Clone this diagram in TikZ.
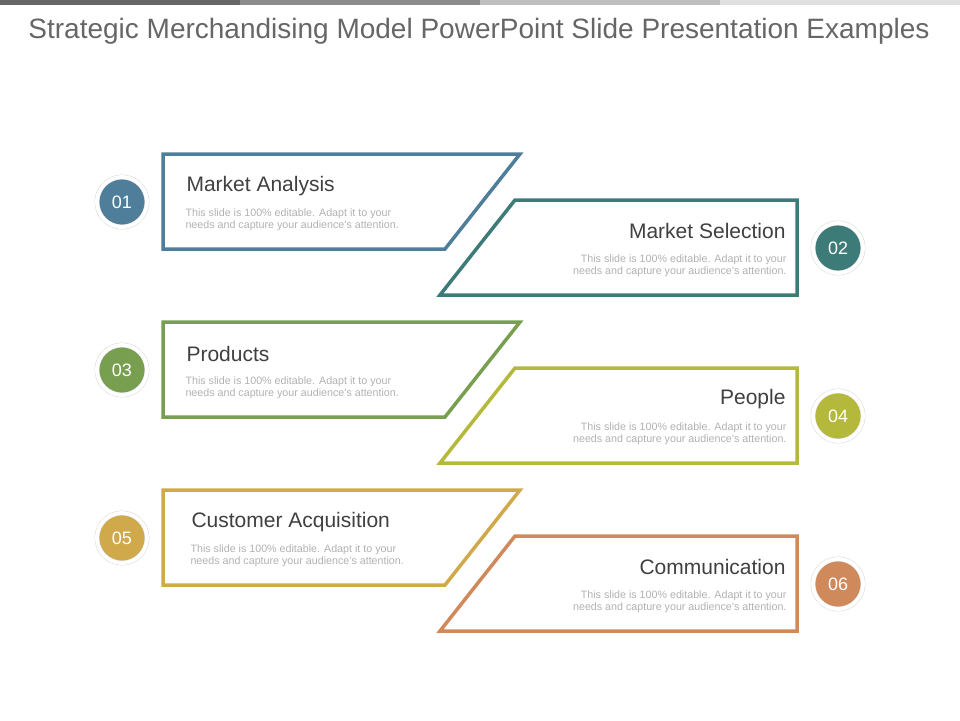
\documentclass[tikz,border=0pt]{standalone}
\usepackage{fontspec}
\setmainfont{Liberation Sans}
\definecolor{cA}{HTML}{4F7E9A}
\definecolor{cB}{HTML}{3D7B78}
\definecolor{cC}{HTML}{789F4F}
\definecolor{cD}{HTML}{B4B93B}
\definecolor{cE}{HTML}{D0A94B}
\definecolor{cF}{HTML}{D0895A}
\begin{document}
\begin{tikzpicture}[x=1pt,y=-1pt]
    \tikzset{frame/.style={draw=#1,line width=3.5pt,fill=white,line join=miter},
             numdot/.style={circle,fill=#1,draw=black!18,double=white,double distance=4pt,minimum size=50pt,text=white,font=\fontsize{18}{18}\selectfont},
             head/.style={font=\fontsize{21}{21}\selectfont,text=black!75},
             note/.style={font=\fontsize{10.7}{12.5}\selectfont,text=black!30}}
    \useasboundingbox (0,0) rectangle (960,720);
    \fill[black!60] (0,0) rectangle (240,5);
    \fill[black!45] (240,0) rectangle (480,5);
    \fill[black!25] (480,0) rectangle (720,5);
    \fill[black!12] (720,0) rectangle (960,5);
    \node[font=\fontsize{28}{28}\selectfont,text=black!60] (title) at (479,31) {Strategic Merchandising Model PowerPoint Slide Presentation Examples};
    % left panels
    \foreach \y/\c/\n/\t/\dx in {154/cA/01/Market Analysis/0,322/cC/03/Products/0,490/cE/05/Customer Acquisition/5}{
      \draw[frame=\c] (163,\y) -- (520,\y) -- (445,\y+95) -- (163,\y+95) -- cycle;
      \node[numdot=\c] (n\n) at (122,\y+48) {\n};
      \node[head,anchor=west] (h\n) at (183+\dx,\y+32) {\t};
      \node[note,anchor=north west,align=left] (b\n) at (182+\dx,\y+51) {This slide is 100\% editable.  Adapt it to your\\needs and capture your audience's attention.};
    }
    % right panels
    \foreach \y/\c/\n/\t in {200/cB/02/Market Selection,368/cD/04/People,536/cF/06/Communication}{
      \draw[frame=\c] (515,\y) -- (797,\y) -- (797,\y+95) -- (440,\y+95) -- cycle;
      \node[numdot=\c] (n\n) at (838,\y+48) {\n};
      \node[head,anchor=east] (h\n) at (789,\y+31) {\t};
      \node[note,anchor=north east,align=right] (b\n) at (790,\y+51) {This slide is 100\% editable.  Adapt it to your\\needs and capture your audience's attention.};
    }
  \end{tikzpicture}
\end{document}
